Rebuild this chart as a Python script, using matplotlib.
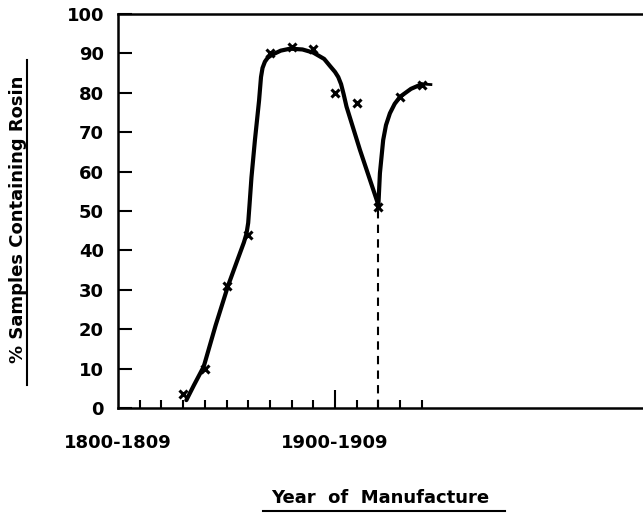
import matplotlib
matplotlib.use("Agg")
import matplotlib.pyplot as plt
from matplotlib.lines import Line2D

# decade index: 0 = 1800-1809, 10 = 1900-1909
decades = [3, 4, 5, 6, 7, 8, 9, 10, 11, 12, 13, 14]
rosin_pct = [3.5, 9.8, 31, 44, 90, 91.5, 91, 80, 77.5, 51, 79, 82]

# hand-drawn trend curve through the samples
curve_x = [3.15, 3.5, 3.95, 4.5, 5.07, 5.5, 5.8, 5.92, 6.0, 6.06, 6.15,
           6.31, 6.5, 6.59, 6.66, 6.77, 6.9, 7.08, 7.5, 7.93, 8.5, 9.0,
           9.5, 9.77, 10.0, 10.15, 10.28, 10.4, 10.53, 11.15, 11.77, 12.0,
           12.03, 12.07, 12.22, 12.35, 12.53, 12.75, 13.0, 13.5, 14.0]
curve_y = [2.0, 5.8, 10.5, 21, 31, 37.5, 42.0, 44.2, 47.0, 51.5, 58.5,
           68, 78, 84, 86.3, 87.9, 88.9, 89.6, 90.7, 91.2, 91.0, 90.2,
           88.6, 86.8, 85.3, 84.0, 82.2, 79.6, 76.5, 65.5, 55.3, 51.5,
           55, 59.6, 68, 71.8, 74.8, 77.2, 79, 81, 82.2]
tail_x = [14.1, 14.7]
tail_y = [82.2, 82.0]

dip_decade = 12
dip_value = 51

decade_ticks = list(range(1, 15))
labelled = {0: "1800-1809", 10: "1900-1909"}

FONT = "DejaVu Sans"
plt.rcParams["font.family"] = FONT

fig = plt.figure(figsize=(6.43, 5.15), dpi=100)
ax = fig.add_axes([118 / 643, 107 / 515, 1 - 118 / 643, 394 / 515])

ax.plot(curve_x, curve_y, color="black", lw=3.0, solid_capstyle="round",
        solid_joinstyle="round")
ax.plot(tail_x, tail_y, color="black", lw=2.0, ls=(0, (3, 2)))
ax.plot(decades, rosin_pct, ls="none", marker="x", color="black",
        markersize=6, markeredgewidth=2.2)
ax.plot([dip_decade, dip_decade], [0, dip_value], color="black", lw=1.5,
        ls=(0, (4, 3)))

ax.set_xlim(0, 525 / 21.7)
ax.set_ylim(0, 100)
for s in ("left", "bottom", "top"):
    ax.spines[s].set_linewidth(1.8)
ax.spines["right"].set_visible(False)

ax.set_yticks(range(0, 101, 10))
ax.set_yticklabels([str(v) for v in range(0, 101, 10)], fontsize=13,
                   fontweight="bold")
ax.tick_params(axis="y", direction="in", length=10, width=1.5, pad=10)

ax.set_xticks(decade_ticks)
ax.set_xticklabels([])
ax.tick_params(axis="x", direction="in", length=6, width=1.5)
ax.get_xticklines()[2 * (10 - 1)].set_markersize(13)
for pos, txt in labelled.items():
    ax.text(pos, -9, txt, ha="center", va="center", fontsize=13,
            fontweight="bold", transform=ax.transData, clip_on=False)

# axis titles with their rules
fig.text(18 / 643, 1 - 219 / 515, "% Samples Containing Rosin", rotation=90,
         ha="center", va="center", fontsize=13, fontweight="bold")
fig.add_artist(Line2D([27 / 643, 27 / 643], [1 - 60 / 515, 1 - 385 / 515],
                      color="black", lw=1.5, transform=fig.transFigure))
fig.text(380 / 643, 1 - 498 / 515, "Year  of  Manufacture", ha="center",
         va="center", fontsize=13, fontweight="bold")
fig.add_artist(Line2D([263 / 643, 505 / 643], [1 - 511 / 515, 1 - 511 / 515],
                      color="black", lw=1.5, transform=fig.transFigure))

fig.savefig("out.png", dpi=100)
